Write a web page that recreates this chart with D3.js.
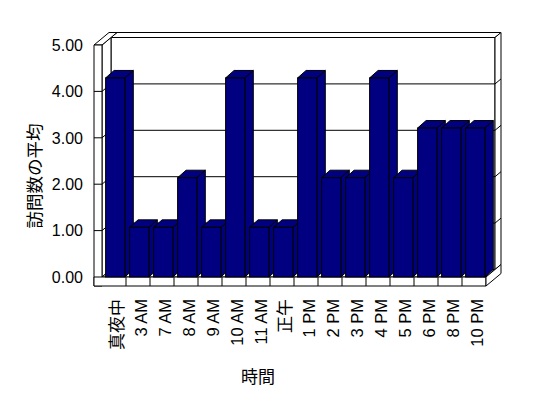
<!DOCTYPE html>
<html>
<head>
<meta charset="utf-8">
<script src="https://cdn.jsdelivr.net/npm/d3@7"></script>
<style>
  body { margin: 0; background: #fff; }
  text { font-family: "Liberation Sans", Arial, "Noto Sans CJK JP", sans-serif; fill: #000; }
  .cjk { font-family: "Noto Sans CJK JP", sans-serif; }
</style>
</head>
<body>
<div class="chart"></div>
<script>
// data
const categories = ["真夜中", "3 AM", "7 AM", "8 AM", "9 AM", "10 AM", "11 AM", "正午",
                    "1 PM", "2 PM", "3 PM", "4 PM", "5 PM", "6 PM", "8 PM", "10 PM"];
const visits = [4.29, 1.07, 1.07, 2.14, 1.07, 4.29, 1.07, 1.07,
                4.29, 2.14, 2.14, 4.29, 2.14, 3.21, 3.21, 3.21];
const yTicks = [0, 1, 2, 3, 4, 5];
const yTitle = "訪問数の平均";
const xTitle = "時間";

const width = 548, height = 398;
const depthX = 9, depthY = -7.5;      // floor depth up to back wall
const wallX = 6, wallY = -5;          // back wall thickness
const wallW = 8;                       // left wall thickness
const floorH = 9;                      // floor thickness

const svg = d3.select(".chart").append("svg")
    .attr("width", width)
    .attr("height", height);

const x = d3.scaleBand().domain(categories).range([102, 486]);
const y = d3.scaleLinear().domain([0, 5]).range([277, 45]);

const x0 = x.range()[0], x1 = x.range()[1];
const yBase = y(0), yTop = y(5);

const poly = pts => "M" + pts.map(p => p.join(",")).join("L") + "Z";
const isCjk = s => /[\u3000-\u9fff]/.test(s);

const frame = svg.append("g")
    .attr("fill", "#fff")
    .attr("stroke", "#000")
    .attr("stroke-width", 1);

// back wall face
frame.append("path").attr("d", poly([
    [x0 + depthX, yTop + depthY], [x1 + depthX, yTop + depthY],
    [x1 + depthX, yBase + depthY], [x0 + depthX, yBase + depthY]]));
// back wall top
frame.append("path").attr("d", poly([
    [x0 + depthX, yTop + depthY], [x1 + depthX, yTop + depthY],
    [x1 + depthX + wallX, yTop + depthY + wallY], [x0 + depthX + wallX, yTop + depthY + wallY]]));
// back wall right side
frame.append("path").attr("d", poly([
    [x1 + depthX, yTop + depthY], [x1 + depthX + wallX, yTop + depthY + wallY],
    [x1 + depthX + wallX, yBase + depthY + wallY], [x1 + depthX, yBase + depthY]]));
// left wall inner face
frame.append("path").attr("d", poly([
    [x0, yTop], [x0 + depthX, yTop + depthY],
    [x0 + depthX, yBase + depthY], [x0, yBase]]));
// left wall top
frame.append("path").attr("d", poly([
    [x0 - wallW, yTop], [x0, yTop],
    [x0 + depthX + wallX, yTop + depthY + wallY], [x0 - wallW + depthX + wallX, yTop + depthY + wallY]]));
// left wall front
frame.append("path").attr("d", poly([
    [x0 - wallW, yTop], [x0, yTop], [x0, yBase + floorH], [x0 - wallW, yBase + floorH]]));
// floor top
frame.append("path").attr("d", poly([
    [x0, yBase], [x1, yBase], [x1 + depthX, yBase + depthY], [x0 + depthX, yBase + depthY]]));
// floor front
frame.append("path").attr("d", poly([
    [x0 - wallW, yBase], [x1, yBase], [x1, yBase + floorH], [x0 - wallW, yBase + floorH]]));
// floor right side
frame.append("path").attr("d", poly([
    [x1, yBase], [x1 + depthX + wallX, yBase + depthY + wallY],
    [x1 + depthX + wallX, yBase + floorH + depthY + wallY], [x1, yBase + floorH]]));

// gridlines on back wall, left wall and wall side
const grid = svg.append("g").attr("stroke", "#000").attr("fill", "none");
yTicks.slice(1, -1).forEach(v => {
    const yf = y(v), yb = y(v) + depthY;
    grid.append("line").attr("x1", x0 + depthX).attr("x2", x1 + depthX).attr("y1", yb).attr("y2", yb);
    grid.append("line").attr("x1", x0).attr("x2", x0 + depthX).attr("y1", yf).attr("y2", yb);
    grid.append("line").attr("x1", x1 + depthX).attr("x2", x1 + depthX + wallX)
        .attr("y1", yb).attr("y2", yb + wallY);
});
// ticks on left wall front
yTicks.slice(1, -1).forEach(v => {
    grid.append("line").attr("x1", x0 - wallW).attr("x2", x0).attr("y1", y(v)).attr("y2", y(v));
});
// category dividers on floor front
categories.slice(1).forEach(c => {
    grid.append("line").attr("x1", x(c)).attr("x2", x(c))
        .attr("y1", yBase).attr("y2", yBase + floorH);
});

// bars
const barOff = x.bandwidth() * 0.15, barW = x.bandwidth() * 0.8;
const bdx = 8.5, bdy = -7.5;
const bars = svg.append("g").attr("fill", "#000080").attr("stroke", "#000");
categories.forEach((c, i) => {
    const bx = x(c) + barOff, by = y(visits[i]);
    const g = bars.append("g");
    g.append("path").attr("d", poly([
        [bx + barW, by], [bx + barW + bdx, by + bdy], [bx + barW + bdx, yBase + bdy], [bx + barW, yBase]]));
    g.append("path").attr("d", poly([
        [bx, by], [bx + barW, by], [bx + barW + bdx, by + bdy], [bx + bdx, by + bdy]]));
    g.append("rect").attr("x", bx).attr("y", by).attr("width", barW).attr("height", yBase - by);
});

// y labels
svg.append("g").selectAll("text")
    .data(yTicks)
    .enter()
    .append("text")
    .attr("x", 83)
    .attr("y", d => y(d))
    .attr("dy", "0.36em")
    .attr("text-anchor", "end")
    .attr("font-size", 16)
    .text(d => d.toFixed(2));

// x labels
svg.append("g").selectAll("text")
    .data(categories)
    .enter()
    .append("text")
    .attr("class", d => isCjk(d) ? "cjk" : null)
    .attr("transform", d => `translate(${x(d) + x.bandwidth() / 2 + 3},299) rotate(-90)`)
    .attr("dy", "0.36em")
    .attr("text-anchor", "end")
    .attr("font-size", d => isCjk(d) ? 17 : 16.5)
    .text(d => d);

// axis titles
svg.append("text")
    .attr("class", "cjk")
    .attr("x", 258).attr("y", 377)
    .attr("dy", "0.36em")
    .attr("text-anchor", "middle")
    .attr("font-size", 17)
    .text(xTitle);

svg.append("text")
    .attr("class", "cjk")
    .attr("transform", "translate(35,176) rotate(-90)")
    .attr("dy", "0.36em")
    .attr("text-anchor", "middle")
    .attr("font-size", 17.5)
    .text(yTitle);
</script>
</body>
</html>
